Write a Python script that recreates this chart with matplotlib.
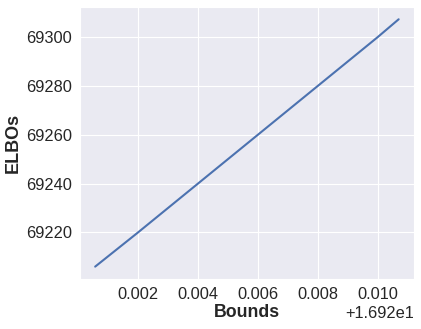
import matplotlib
matplotlib.use('Agg')
import matplotlib.pyplot as plt
import seaborn as sns

# values
bounds = [16.92057, 16.922, 16.924, 16.926, 16.928, 16.930, 16.93070]
elbos = [69206.0, 69220.0, 69240.0, 69260.0, 69280.0, 69300.0, 69307.3]

sns.set_style('darkgrid')
plt.rcParams['font.family'] = ['Liberation Sans', 'DejaVu Sans']

fig, ax = plt.subplots(figsize=(4.21, 3.29), dpi=100)
ax.plot(bounds, elbos, color='#4c72b0', lw=1.5)

ax.set_xlabel('Bounds', fontsize=12.8, fontweight='bold', labelpad=1)
ax.set_ylabel('ELBOs', fontsize=13, fontweight='bold', labelpad=2.5)
ax.tick_params(labelsize=11.8, pad=2.5)
ax.xaxis.get_offset_text().set_fontsize(11.8)
ax.set_xticks([16.922, 16.924, 16.926, 16.928, 16.930])
ax.set_yticks([69220, 69240, 69260, 69280, 69300])

fig.subplots_adjust(left=0.19, right=0.983, top=0.979, bottom=0.152)
plt.savefig('out.png')
